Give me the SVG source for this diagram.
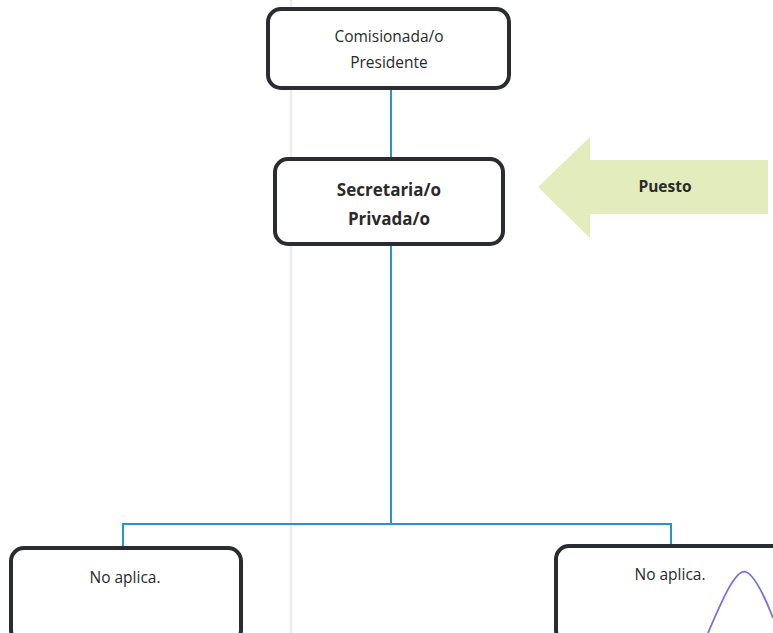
<svg xmlns="http://www.w3.org/2000/svg" width="773" height="633" viewBox="0 0 773 633">
  <style>
    .box { fill: #ffffff; stroke: #2b2b33; stroke-width: 4; }
    .lbl { font-family: "Open Sans", "Noto Sans", "Liberation Sans", sans-serif; font-size: 15.5px; fill: #2a2a2a; text-anchor: middle; }
    .bold { font-weight: bold; font-size: 17px; }
    .wire { fill: none; stroke: #2a93c8; stroke-width: 2; }
  </style>
  <rect width="773" height="633" fill="#ffffff"/>
  <!-- faint fold line across the sheet -->
  <line x1="291" y1="0" x2="291" y2="633" stroke="#ededf1" stroke-width="2.5"/>

  <g id="connectors">
    <path class="wire" d="M391 88 V158"/>
    <path class="wire" d="M391 244 V524"/>
    <path class="wire" d="M123 548 V524 H671 V546"/>
  </g>

  <g id="comisionada">
    <rect class="box" x="268" y="9" width="241" height="79" rx="13"/>
    <text class="lbl" x="389" y="42">Comisionada/o</text>
    <text class="lbl" x="389" y="68">Presidente</text>
  </g>

  <g id="secretaria">
    <rect class="box" x="275" y="159" width="228" height="85" rx="13"/>
    <text class="lbl bold" x="389" y="196">Secretaria/o</text>
    <text class="lbl bold" x="389" y="225">Privada/o</text>
  </g>

  <g id="puesto">
    <polygon points="538,187 590,137 590,160 768,160 768,214 590,214 590,238" fill="#e3ecbd"/>
    <text class="lbl" x="665" y="192" font-weight="bold" font-size="15">Puesto</text>
  </g>

  <g id="no-aplica-izq">
    <rect class="box" x="11" y="548" width="230" height="95" rx="13"/>
    <text class="lbl" x="125" y="583">No aplica.</text>
  </g>

  <g id="no-aplica-der">
    <rect class="box" x="556" y="546" width="230" height="97" rx="13"/>
    <text class="lbl" x="670" y="580">No aplica.</text>
    <path d="M708 633 C722 600 736 568 746 572 C756 576 766 600 773 618" fill="none" stroke="#7b70d8" stroke-width="1.8"/>
  </g>
</svg>
